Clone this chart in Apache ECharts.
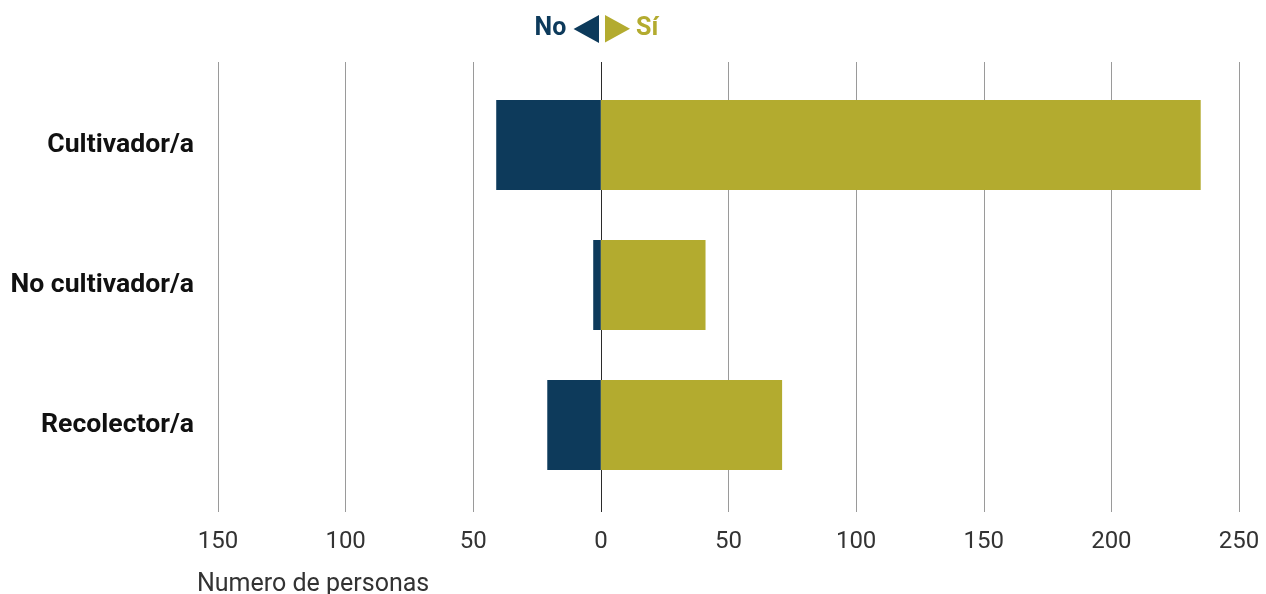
<!DOCTYPE html>
<html>
<head>
<meta charset="utf-8">
<style>
  html, body { margin: 0; padding: 0; background: #ffffff; }
  #chart { width: 1266px; height: 594px; }
</style>
<script src="https://cdn.jsdelivr.net/npm/echarts@6/dist/echarts.min.js"></script>
</head>
<body>
<div id="chart"></div>
<script>
// Roles of the people interviewed
const categories = ['Cultivador/a', 'No cultivador/a', 'Recolector/a'];
// Number of people answering "No" (drawn to the left of zero)
const noValues = [41, 3, 21];
// Number of people answering "Sí" (drawn to the right of zero)
const siValues = [235, 41, 71];
// Axis range and tick step
const axisMin = -150;
const axisMax = 250;
const axisStep = 50;
const axisTitle = 'Numero de personas';

const NO_COLOR = '#0d3a5b';
const SI_COLOR = '#b3ab2f';
const FONT = 'Roboto, "Noto Sans", sans-serif';

// Grid lines: the zero line is darker than the rest
const tickCount = Math.round((axisMax - axisMin) / axisStep) + 1;
const gridColors = [];
for (let i = 0; i < tickCount; i++) {
  gridColors.push(axisMin + i * axisStep === 0 ? '#2b2b2b' : '#9a9a9a');
}

const chart = echarts.init(document.getElementById('chart'), null, { renderer: 'canvas' });

chart.setOption({
  animation: false,
  backgroundColor: '#ffffff',
  textStyle: { fontFamily: FONT },
  title: {
    text: axisTitle,
    left: 197,
    top: 572,
    padding: 0,
    textStyle: { fontFamily: FONT, fontSize: 25, fontWeight: 'normal', color: '#333333' }
  },
  legend: [
    {
      data: [{ name: 'No', icon: 'path://M10,0 L10,11 L0,5.5 Z' }],
      align: 'right',
      right: 1266 - 599,
      top: 15,
      padding: 0,
      itemWidth: 26,
      itemHeight: 28,
      selectedMode: false,
      textStyle: { fontFamily: FONT, fontSize: 25, fontWeight: 'bold', color: NO_COLOR, padding: [6, 2, 0, 0] }
    },
    {
      data: [{ name: 'Sí', icon: 'path://M0,0 L0,11 L10,5.5 Z' }],
      align: 'left',
      left: 605,
      top: 15,
      padding: 0,
      itemWidth: 25,
      itemHeight: 28,
      selectedMode: false,
      textStyle: { fontFamily: FONT, fontSize: 25, fontWeight: 'bold', color: SI_COLOR, padding: [6, 0, 0, 1] }
    }
  ],
  grid: [
    // Background grid carrying the vertical lines and tick labels
    { left: 218, right: 27, top: 62, bottom: 82 },
    // Grid holding the bars
    { left: 218, right: 27, top: 75, height: 420 }
  ],
  xAxis: [
    {
      gridIndex: 0,
      type: 'value',
      min: axisMin,
      max: axisMax,
      interval: axisStep,
      axisLine: { show: false },
      axisTick: { show: false },
      axisLabel: {
        margin: 18,
        fontFamily: FONT,
        fontSize: 24,
        fontWeight: 'normal',
        color: '#333333',
        formatter: v => String(Math.abs(v))
      },
      splitLine: { show: true, lineStyle: { color: gridColors, width: 1 } },
      z: 0
    },
    {
      gridIndex: 1,
      type: 'value',
      min: axisMin,
      max: axisMax,
      interval: axisStep,
      show: false,
      splitLine: { show: false }
    }
  ],
  yAxis: [
    {
      gridIndex: 0,
      type: 'category',
      data: categories,
      show: false
    },
    {
      gridIndex: 1,
      type: 'category',
      data: categories,
      inverse: true,
      axisLine: { show: false },
      axisTick: { show: false },
      axisLabel: {
        margin: 24,
        fontFamily: FONT,
        fontSize: 26.6,
        fontWeight: 'bold',
        color: '#111111',
        padding: [0, 0, 8, 0]
      }
    }
  ],
  series: [
    {
      name: 'No',
      type: 'bar',
      xAxisIndex: 1,
      yAxisIndex: 1,
      stack: 'respuesta',
      barWidth: 90,
      itemStyle: { color: NO_COLOR },
      data: noValues.map(v => -v),
      z: 1
    },
    {
      name: 'Sí',
      type: 'bar',
      xAxisIndex: 1,
      yAxisIndex: 1,
      stack: 'respuesta',
      barWidth: 90,
      itemStyle: { color: SI_COLOR },
      data: siValues,
      z: 1
    }
  ]
});
</script>
</body>
</html>
